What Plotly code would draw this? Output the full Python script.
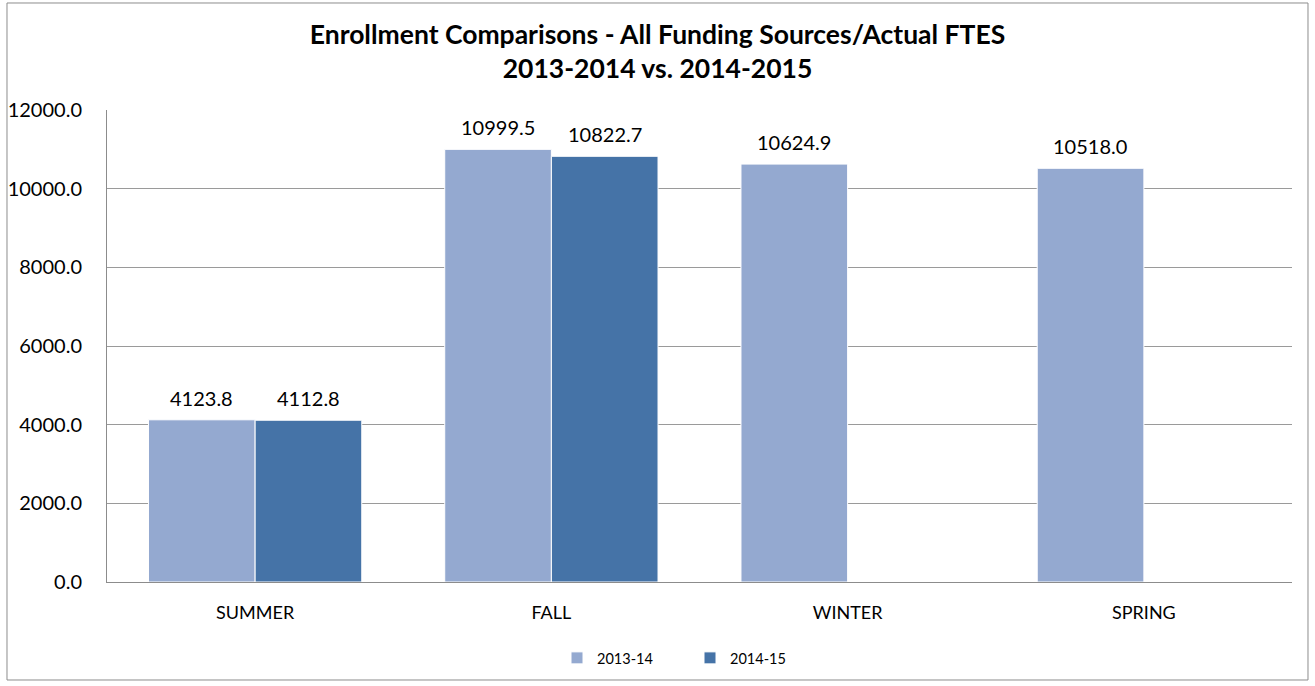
import plotly.graph_objects as go

categories = ["SUMMER", "FALL", "WINTER", "SPRING"]
series_names = ["2013-14", "2014-15"]
values_2013_14 = [4123.8, 10999.5, 10624.9, 10518.0]
values_2014_15 = [4112.8, 10822.7, None, None]
y_ticks = [0, 2000, 4000, 6000, 8000, 10000, 12000]

colors = ["#94A9D0", "#4573A7"]
font_family = "Lato, 'Open Sans', sans-serif"
bar_px = 107  # approximate pixel width of one bar, for label placement

fig = go.Figure()
annotations = []
for j, (name, vals, col) in enumerate(zip(series_names, [values_2013_14, values_2014_15], colors)):
    fig.add_trace(go.Bar(
        x=categories, y=vals, name=name,
        marker=dict(color=col, line=dict(color="white", width=1)),
    ))
    for cat, v in zip(categories, vals):
        if v is None:
            continue
        annotations.append(dict(
            x=cat, y=v, xref="x", yref="y", text=f"{v:.1f}", showarrow=False,
            xanchor="center", yanchor="bottom", xshift=(j - 0.5) * bar_px, yshift=8,
            font=dict(size=20, color="black", family=font_family),
        ))

fig.update_layout(
    width=1315, height=686,
    paper_bgcolor="white", plot_bgcolor="white",
    barmode="group", bargap=0.28, bargroupgap=0,
    margin=dict(l=107, r=23, t=110, b=104),
    font=dict(family=font_family, size=19, color="black"),
    title=dict(
        text="<b>Enrollment Comparisons - All Funding Sources/Actual FTES<br>2013-2014 vs. 2014-2015</b>",
        x=0.5, xanchor="center", y=0.936, yanchor="top",
        font=dict(size=26.5, family=font_family, color="black"),
    ),
    legend=dict(
        orientation="h", x=(557 - 107) / 1185, xanchor="left", y=-0.127, yanchor="top",
        font=dict(size=14.5, family=font_family), traceorder="normal",
        entrywidth=88, entrywidthmode="pixels",
    ),
    annotations=annotations,
    shapes=[dict(
        type="rect", xref="paper", yref="paper",
        x0=-0.0844, x1=1.0135, y0=-0.2076, y1=1.2267,
        line=dict(color="#8C8C8C", width=1), fillcolor="rgba(0,0,0,0)", layer="below",
    )],
)
fig.update_xaxes(
    showline=True, linecolor="#8C8C8C", linewidth=1, automargin=False,
    tickfont=dict(size=18), ticks="", ticklabelstandoff=14,
)
fig.update_yaxes(
    range=[0, 12000], tickvals=y_ticks, tickformat=".1f", automargin=False,
    showgrid=True, gridcolor="#9A9A9A", gridwidth=1,
    showline=True, linecolor="#8C8C8C", linewidth=1,
    ticks="", tickfont=dict(size=20), ticklabelstandoff=20,
    zeroline=False,
)

fig.write_html(
    "out.html",
    config={"displayModeBar": False},
    post_script="document.body.style.margin='0';document.body.style.overflow='hidden';",
)
